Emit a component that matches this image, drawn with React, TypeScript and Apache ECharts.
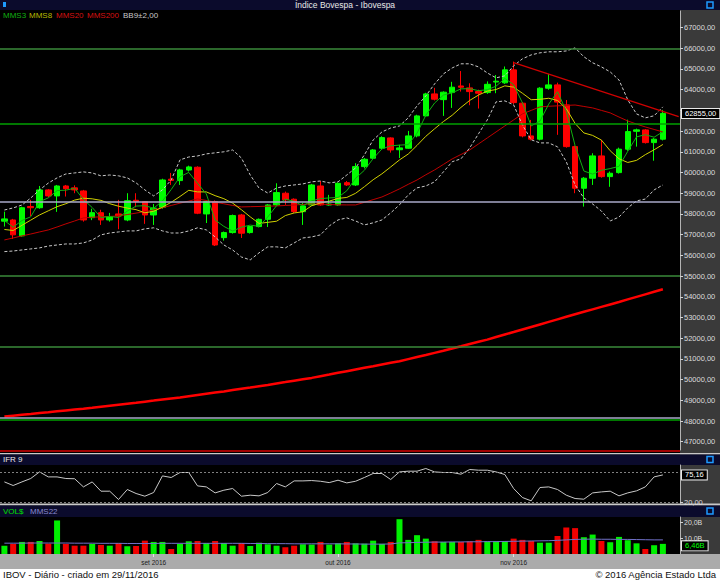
import { useEffect, useRef } from 'react';
import * as echarts from 'echarts';

const FONT = '"Liberation Sans", Arial, sans-serif';

const dates = [
  '2016-08-09','2016-08-10','2016-08-11','2016-08-12','2016-08-15','2016-08-16','2016-08-17','2016-08-18','2016-08-19','2016-08-22',
  '2016-08-23','2016-08-24','2016-08-25','2016-08-26','2016-08-29','2016-08-30','2016-08-31',
  '2016-09-01','2016-09-02','2016-09-05','2016-09-06','2016-09-08','2016-09-09','2016-09-12','2016-09-13','2016-09-14','2016-09-15',
  '2016-09-16','2016-09-19','2016-09-20','2016-09-21','2016-09-22','2016-09-23','2016-09-26','2016-09-27','2016-09-28','2016-09-29','2016-09-30',
  '2016-10-03','2016-10-04','2016-10-05','2016-10-06','2016-10-07','2016-10-10','2016-10-11','2016-10-13','2016-10-14','2016-10-17',
  '2016-10-18','2016-10-19','2016-10-20','2016-10-21','2016-10-24','2016-10-25','2016-10-26','2016-10-27','2016-10-28','2016-10-31',
  '2016-11-01','2016-11-03','2016-11-04','2016-11-07','2016-11-08','2016-11-09','2016-11-10','2016-11-11','2016-11-14','2016-11-16',
  '2016-11-17','2016-11-18','2016-11-21','2016-11-22','2016-11-23','2016-11-24','2016-11-25','2016-11-28'
];

const opens = [57650,57710,56940,58360,58300,59160,58870,59350,59260,59110,57820,58060,57710,58000,57710,58660,58590,57950,58320,59680,59610,60120,60255,58000,58595,56855,57100,57950,57100,57390,57740,58435,59000,58710,58110,58435,59350,58430,58435,59510,59400,60285,60690,61174,61670,61100,61174,61770,62734,63797,63520,63860,64180,64087,63910,63860,64370,64330,64957,63348,61768,61609,64072,64232,63266,61251,59241,59725,60802,59802,59995,61126,61990,62058,61445,61609];
const closes = [57760,56990,58300,58300,59160,58870,59350,59220,59160,57710,58060,57710,57870,57900,58640,58600,57950,58280,59640,59620,60125,60270,58035,58595,56500,57100,57920,57070,57390,57740,58435,59030,58680,58110,58385,59400,58435,58480,59480,59400,60285,60640,61090,61686,61090,61190,61768,62734,63797,63540,63880,64120,64120,63908,63830,64260,64410,64957,63377,61768,61609,64072,64232,63400,61251,59241,59725,60802,59802,59966,61126,61976,62060,61445,61609,62855];
const lows = [57390,56790,56900,57900,58250,58800,58100,58840,59000,57630,57700,57470,57630,57260,57650,58320,57520,57470,58250,59400,59400,60050,57990,57560,56450,56710,57050,56840,57050,57350,57370,58400,58440,58050,57470,58400,58400,58400,58400,59350,59350,60200,60640,61100,60960,60700,61150,61700,62700,63480,62734,63120,63910,63250,63090,63800,63830,64280,63300,61700,61550,61550,64000,61820,61200,59000,58353,59400,59750,59310,59950,61050,61250,61400,60570,61550];
const highs = [58110,57760,58350,58680,59350,59200,59400,59400,59380,59160,58250,58200,58050,58680,59000,59000,58620,58480,59700,59980,60180,60330,60300,58650,58650,57150,57970,58000,57420,57780,58480,59480,59080,58750,58530,59450,59590,58920,59520,59590,60450,60700,61130,61750,61700,61340,62010,62790,63850,64090,63920,64380,64900,64310,64000,64400,64710,65120,65357,63400,62540,64120,64760,64340,63500,61300,59780,60930,61580,60050,61200,62550,62120,62100,61660,63024];

const mms3 = [57680,57360,57683,57863,58587,58777,59127,59147,59243,58697,58310,57827,57880,57827,58137,58380,58397,58277,58623,59180,59795,60005,59477,58967,57710,57398,57173,57363,57460,57400,57855,58402,58715,58607,58392,58632,58740,58772,58798,59120,59722,60108,60672,61139,61289,61322,61349,61897,62766,63357,63739,63847,64040,64049,63953,63999,64167,64542,64248,63367,62251,62483,63304,63901,62961,61297,60072,59923,60110,60190,60298,61023,61721,61827,61705,61970];
const mms8 = [57250,57200,57450,57700,57950,58150,58350,58494,58669,58759,58729,58655,58494,58373,58284,58206,58055,58126,58324,58563,58844,59141,59065,59064,58883,58736,58521,58202,57860,57544,57594,57648,57921,58047,58105,58396,58527,58619,58750,58796,58997,59313,59651,59937,60269,60608,60894,61310,61749,62112,62461,62765,63144,63483,63741,63932,64009,64186,64123,63829,63515,63535,63586,63478,63083,62369,61912,61792,61566,61052,60664,60486,60587,60863,61098,61355];
const mms20 = [56744,56840,56940,57030,57130,57227,57370,57520,57660,57807,57840,57860,57880,57903,57970,58040,58110,58193,58300,58410,58520,58620,58724,58650,58570,58490,58410,58338,58350,58360,58375,58386,58410,58430,58460,58483,58470,58455,58440,58435,58435,58560,58690,58820,59010,59210,59430,59640,59890,60125,60390,60656,60870,61090,61380,61670,61960,62250,62540,62830,63000,63170,63200,63220,63240,63260,63190,63120,63000,62880,62680,62490,62340,62200,62080,61960];
const mms200 = [48213,48255,48298,48340,48383,48425,48468,48510,48553,48595,48638,48687,48736,48786,48835,48884,48935,48986,49038,49089,49140,49198,49256,49314,49372,49430,49493,49556,49618,49681,49744,49812,49879,49947,50014,50082,50163,50244,50326,50407,50488,50568,50648,50729,50809,50889,50989,51090,51190,51291,51391,51499,51607,51716,51824,51932,52054,52176,52297,52419,52541,52664,52787,52909,53032,53155,53274,53393,53511,53630,53749,53872,53994,54117,54239,54362];
const bbUpper = [58190,58290,58430,58770,59160,59490,59740,59930,59980,60030,59980,59840,59880,59840,59740,59500,59160,58870,59160,59640,60610,60750,60800,60900,60950,61000,61090,60700,59880,59250,59010,59250,59350,59400,59450,59550,59590,59500,59550,59880,60220,60850,61570,61960,62150,62250,62640,63220,63700,64280,64760,65050,65250,65250,65100,64810,64570,64670,65150,65490,65680,65780,65830,65830,65870,66020,65590,65300,65100,64860,64470,63510,62830,62640,62740,63170];
const bbLower = [56180,56210,56260,56310,56360,56450,56500,56550,56550,56600,56740,56990,57080,57130,57180,57180,57280,57330,57180,57080,57080,57180,57330,57230,56890,56500,56260,55920,55780,56120,56410,56410,56360,56600,56840,56890,56990,57420,57710,57810,57660,57470,57570,57710,58050,58440,58920,59260,59350,59550,60030,60520,60660,61190,61870,62540,63410,63460,63270,62300,61580,61430,61430,61240,60520,59400,58770,58480,58140,57660,57850,58290,58630,58720,59160,59400];

const ifr9 = [61.2,54,61.2,68,81.2,71.2,71.2,68,67.5,51.2,61.2,42.6,42.6,26,46,38,32.6,40,73.2,70,80,80,53.2,51.2,39.2,44.6,48,32.6,34.6,33.3,40,58,51.2,63.2,63.2,63.9,62.5,59.8,64.6,59.2,62.5,70,78,78,66,81.2,82.6,82.6,88,81.2,80,80,76.6,86,84.6,84.6,81.2,76,48,30,23.3,50,51.2,46,34.6,28,26.6,39.2,41.2,42.6,33.3,39.2,43.3,51.2,71.2,75.16];

const volume = [5.3,6.4,7.7,7.7,8.3,6.6,21.4,6.4,5.3,5.3,6.4,5.8,5.3,7.0,4.9,5.1,8.5,7.7,7.7,3.2,6.4,8.1,8.3,7.0,8.3,7.0,5.3,7.0,5.1,7.2,6.2,5.3,4.3,5.3,6.2,6.0,7.7,6.0,6.8,7.7,6.8,6.6,8.5,6.4,7.7,22.2,9.0,12.0,9.8,8.1,7.7,7.7,7.7,8.1,9.0,8.1,8.1,8.3,9.8,9.0,8.3,7.2,7.2,11.5,16.9,16.5,10.7,12.4,8.3,7.5,10.9,8.8,6.8,3.2,5.6,6.46];
const volMms22 = [6.9,6.9,6.9,7.0,7.0,7.0,7.0,7.0,6.9,6.9,6.9,6.8,6.8,6.8,6.7,6.7,6.7,6.7,6.8,6.8,6.8,6.8,6.8,6.8,6.8,6.8,6.8,6.8,6.7,6.7,6.6,6.6,6.6,6.5,6.5,6.5,6.5,6.5,6.5,6.4,6.4,6.3,6.3,6.3,6.4,7.1,7.2,7.4,7.5,7.6,7.6,7.7,7.7,7.8,7.8,7.9,7.9,8.0,8.1,8.2,8.3,8.4,8.5,8.7,9.0,9.3,9.4,9.5,9.4,9.4,9.3,9.3,9.2,9.1,9.0,9.0];

const priceTicks = [47000,48000,49000,50000,51000,52000,53000,54000,55000,56000,57000,58000,59000,60000,61000,62000,63000,64000,65000,66000,67000];
const ifrTicks = [20];
const ifrBands = [80, 20];
const volTicks = [10, 20];
const levelValues = [66000, 62350, 58610, 55000, 51600, 48180, 48050];
const levelKinds = ['g', 'G', 'w', 'g', 'g', 'w', 'G'];
const trendLine = [[58, 65310], [76.8, 62700]];
const monthNames = ['jan','fev','mar','abr','mai','jun','jul','ago','set','out','nov','dez'];

const fmt2 = (v: number) => v.toFixed(2).replace('.', ',');
const lastPrice = closes[closes.length - 1];
const lastIfr = ifr9[ifr9.length - 1];
const lastVol = volume[volume.length - 1];

// the price box hides the tick label right behind it
const priceLabelTicks = priceTicks.filter((v) => Math.abs(v - lastPrice) > 500);

const monthStarts = dates
  .map((d, i) => (i > 0 && d.slice(5, 7) !== dates[i - 1].slice(5, 7) ? i : -1))
  .filter((i) => i >= 0);

const X_MIN = -0.5;
const X_MAX = 76.95;

const levelColor: Record<string, string> = { g: '#3a8a3a', G: '#00a000', w: '#a8a8c8' };

function buildOption(): any {
  const pts = (arr: number[]) => arr.map((v, i) => [i, v]);
  const candles = dates.map((_, i) => [i, opens[i], closes[i], lows[i], highs[i]]);
  const vols = volume.map((v, i) => ({
    value: [i, v],
    itemStyle: { color: closes[i] >= opens[i] ? '#00f000' : '#f00000' },
  }));
  const lineS = (name: string, data: number[], color: string, width: number, type: any = 'solid', extra: any = {}) => ({
    type: 'line', name, xAxisIndex: 0, yAxisIndex: 0, data: pts(data), symbol: 'none',
    lineStyle: { color, width, type }, z: 3, silent: true, ...extra,
  });
  const boxLabel = (text: string, color: string, dy = 0) => ({
    show: true, position: 'end', formatter: text, color, backgroundColor: '#000',
    borderColor: '#e8e8e8', borderWidth: 1, padding: [1, 3, 0, 3], fontSize: 7.5,
    fontFamily: FONT, distance: 2, opacity: 1, offset: [0, dy],
  });
  const hiddenLine = { color: 'rgba(0,0,0,0)', width: 0.01, type: 'solid' };
  const xAx = (gridIndex: number, showLabels: boolean) => ({
    type: 'value', gridIndex, min: X_MIN, max: X_MAX, show: showLabels,
    splitLine: { show: false }, axisLine: { show: false, onZero: false },
    axisTick: { show: showLabels, customValues: monthStarts, length: 3, lineStyle: { color: '#e0e0e0' } },
    axisLabel: {
      show: showLabels, customValues: monthStarts, margin: 5, fontSize: 6.5, fontFamily: FONT, color: '#202020',
      formatter: (v: number) => {
        const d = dates[Math.round(v)] || '';
        return monthNames[parseInt(d.slice(5, 7), 10) - 1] + ' ' + d.slice(0, 4);
      },
    },
  });
  const yAx = (gridIndex: number, min: number, max: number, ticks: number[], labelTicks: number[], fmt: (v: number) => string, fs = 7.5) => ({
    type: 'value', gridIndex, position: 'right', min, max, splitLine: { show: false },
    axisLine: { show: true, onZero: false, lineStyle: { color: '#b4b4b4', width: 1 } },
    axisTick: { show: true, customValues: ticks, length: 3, lineStyle: { color: '#d0d0d0' } },
    axisLabel: { customValues: labelTicks, formatter: fmt, color: '#dcdcdc', fontSize: fs, fontFamily: FONT, margin: 4 },
  });

  const bgRect = (x: number, y: number, w: number, h: number, fill: string) => ({
    type: 'rect', shape: { x, y, width: w, height: h }, style: { fill }, z: -10, silent: true,
  });
  const txt = (x: number, y: number, text: string, fill: string, size: number, align = 'left') => ({
    type: 'text', x, y, z: 20, silent: true,
    style: { text, fill, fontSize: size, fontFamily: FONT, align, textAlign: align, verticalAlign: 'middle', textVerticalAlign: 'middle' },
  });
  const icon = (x: number, y: number) => ({
    type: 'rect', shape: { x, y, width: 6, height: 6 }, z: 20, silent: true,
    style: { fill: 'none', stroke: '#1e9bff', lineWidth: 1.5 },
  });

  return {
    animation: false,
    backgroundColor: '#000',
    grid: [
      { left: 0, top: 11, width: 680, height: 439 },
      { left: 0, top: 465, width: 680, height: 38.5 },
      { left: 0, top: 517, width: 680, height: 37 },
    ],
    xAxis: [xAx(0, false), xAx(1, false), xAx(2, true)],
    yAxis: [
      yAx(0, 46600, 67800, priceTicks, priceLabelTicks, fmt2),
      yAx(1, 18, 95, ifrTicks, ifrTicks, fmt2),
      yAx(2, 0, 23.6, volTicks, volTicks, (v: number) => v.toFixed(1).replace('.', ',') + 'B', 7),
    ],
    series: [
      {
        type: 'candlestick', xAxisIndex: 0, yAxisIndex: 0, data: candles,
        encode: { x: 0, y: [1, 2, 3, 4] }, barWidth: 6, z: 2, silent: true,
        itemStyle: { color: '#00ff00', color0: '#ff0000', borderColor: '#00ff00', borderColor0: '#ff0000', borderWidth: 1 },
      },
      lineS('MMS200', mms200, '#ff0000', 2.5, 'solid', {
        markLine: {
          silent: true, symbol: ['none', 'none'], animation: false,
          data: [
            ...levelValues.map((v, k) => ({
              yAxis: v, label: { show: false },
              lineStyle: { color: levelColor[levelKinds[k]], width: 1.5, type: 'solid' },
            })),
            [
              { coord: trendLine[0], label: { show: false }, lineStyle: { color: '#d00000', width: 1.2, type: 'solid' } },
              { coord: trendLine[1] },
            ],
            { yAxis: lastPrice, lineStyle: hiddenLine, label: boxLabel(fmt2(lastPrice), '#ffffff') },
          ],
        },
      }),
      lineS('MMS20', mms20, '#c00000', 1),
      lineS('BBsup', bbUpper, '#c8c8c8', 1, [3, 2]),
      lineS('BBinf', bbLower, '#c8c8c8', 1, [3, 2]),
      lineS('MMS8', mms8, '#d0d000', 1),
      lineS('MMS3', mms3, '#10b010', 1),
      {
        type: 'line', name: 'IFR9', xAxisIndex: 1, yAxisIndex: 1, data: pts(ifr9), symbol: 'none', silent: true,
        lineStyle: { color: '#c8c8c8', width: 1 },
        markLine: {
          silent: true, symbol: ['none', 'none'], animation: false,
          data: [
            ...ifrBands.map((v) => ({ yAxis: v, label: { show: false }, lineStyle: { color: '#808080', width: 1, type: [2, 2] } })),
            { yAxis: lastIfr, lineStyle: hiddenLine, label: boxLabel(fmt2(lastIfr), '#ffffff') },
          ],
        },
      },
      {
        type: 'bar', name: 'VOL$', xAxisIndex: 2, yAxisIndex: 2, data: vols, barWidth: 6, silent: true,
      },
      {
        type: 'line', name: 'MMS22', xAxisIndex: 2, yAxisIndex: 2, data: pts(volMms22), symbol: 'none', silent: true,
        lineStyle: { color: '#7070c8', width: 1 }, z: 3,
        markLine: {
          silent: true, symbol: ['none', 'none'], animation: false,
          data: [{ yAxis: lastVol, lineStyle: hiddenLine, label: boxLabel(fmt2(lastVol) + 'B', '#00ff00', 2) }],
        },
      },
    ],
    graphic: [
      bgRect(680, 10, 40, 545, '#3a3a3a'),
      bgRect(0, 0, 720, 10, '#0b0b2c'),
      bgRect(0, 450, 680, 2, '#a00000'),
      bgRect(0, 453, 720, 1.5, '#c8c8c8'),
      bgRect(0, 454.5, 720, 10.5, '#0b0b2c'),
      bgRect(0, 503.5, 720, 2, '#c8c8c8'),
      bgRect(0, 505.5, 720, 11.5, '#0b0b2c'),
      bgRect(0, 554, 720, 14.5, '#ababab'),
      bgRect(0, 568.5, 720, 11.5, '#ffffff'),
      txt(345, 5, 'Índice Bovespa - Ibovespa', '#e8e8e8', 8.5, 'center'),
      txt(3, 15.5, 'MMS3', '#10b010', 8),
      txt(29, 15.5, 'MMS8', '#b8b800', 8),
      txt(56, 15.5, 'MMS20', '#d81010', 8),
      txt(87, 15.5, 'MMS200', '#d81010', 8),
      txt(123, 15.5, 'BB9±2,00', '#c8c8c8', 8),
      txt(3, 459.5, 'IFR 9', '#e8e8e8', 8),
      txt(3, 511, 'VOL$', '#00e000', 8),
      txt(30, 511, 'MMS22', '#8a8ad0', 8),
      txt(3, 574.5, 'IBOV - Diário - criado em 29/11/2016', '#101010', 9.5),
      txt(716, 574.5, '© 2016 Agência Estado Ltda', '#101010', 9.5, 'right'),
      { type: 'rect', shape: { x: 3, y: 2, width: 3, height: 5 }, style: { fill: '#1e9bff' }, z: 20, silent: true },
      icon(707, 2),
      icon(707, 456.5),
      icon(707, 508),
    ],
  };
}

export default function App() {
  const ref = useRef<HTMLDivElement>(null);
  useEffect(() => {
    if (!ref.current) return;
    const chart = echarts.init(ref.current, null, { renderer: 'svg' });
    chart.setOption(buildOption());
    return () => chart.dispose();
  }, []);
  return <div ref={ref} style={{ position: 'fixed', left: 0, top: 0, width: 720, height: 580 }} />;
}
